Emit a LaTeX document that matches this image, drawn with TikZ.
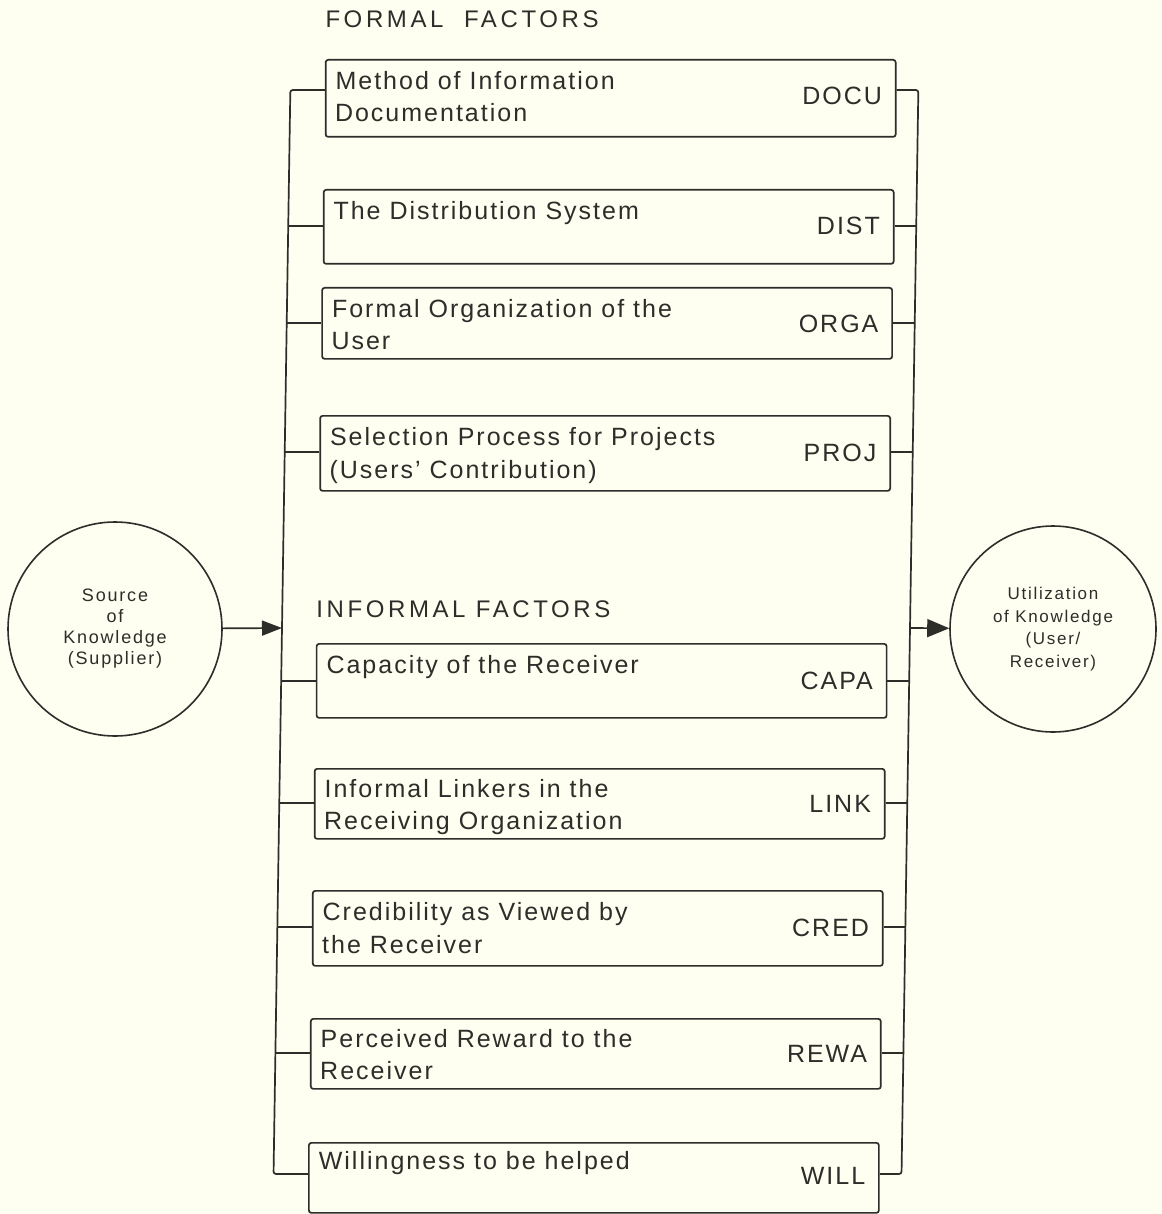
\documentclass[tikz,border=0pt]{standalone}
\usepackage{fontspec}
\newfontfamily\lsfont{Liberation Sans}[LetterSpace=8]
\newfontfamily\lsfonth{Liberation Sans}[LetterSpace=15]
\newfontfamily\lsfontc{Liberation Sans}[LetterSpace=10]
\usetikzlibrary{arrows.meta}
\definecolor{paper}{RGB}{254,254,241}
\definecolor{ink}{RGB}{45,45,42}
\tikzset{
  factorbox/.style={draw=ink, line width=1.7pt, rounded corners=2.5pt, minimum width=570pt,
    minimum height=#1, inner sep=0pt, anchor=north west},
  boxtext/.style={text=ink, inner sep=0pt, anchor=base west, font=\lsfont\fontsize{25}{30}\selectfont},
  codetext/.style={text=ink, inner sep=0pt, anchor=base east, font=\lsfont\fontsize{25}{30}\selectfont},
  headtext/.style={text=ink, inner sep=0pt, anchor=base west, font=\lsfonth\fontsize{24}{30}\selectfont},
  conn/.style={draw=ink, line width=1.7pt, rounded corners=2.5pt},
  endcircle/.style={circle, draw=ink, line width=1.6pt, inner sep=0pt, align=center, text=ink},
}
\begin{document}
\begin{tikzpicture}[x=1pt,y=-1pt]
\fill[paper] (0,0) rectangle (1161,1214);
\useasboundingbox (0,0) rectangle (1161,1214);

% end circles
\node[endcircle, minimum size=214pt, font=\lsfontc\fontsize{18}{21}\selectfont] (src) at (115,629)
  {Source\\of\\Knowledge\\(Supplier)};
\node[endcircle, minimum size=206pt, font=\lsfontc\fontsize{17}{22.5}\selectfont] (dst) at (1053,629)
  {Utilization\\of Knowledge\\(User/\\Receiver)};

\begin{scope}[shift={(9.73,0)}, xslant=0.0155]
% headers
\node[headtext] (hf) at (316,28) {FORMAL~~FACTORS};
\node[headtext] (hi) at (316,617) {INFORMAL FACTORS};

% boxes
\node[factorbox=77pt]  (b1) at (316,59)   {};
\node[factorbox=74pt]  (b2) at (316,189)  {};
\node[factorbox=71pt]  (b3) at (316,287)  {};
\node[factorbox=75pt]  (b4) at (316,415)  {};
\node[factorbox=74pt]  (b5) at (316,643)  {};
\node[factorbox=70pt]  (b6) at (316,768)  {};
\node[factorbox=75pt]  (b7) at (316,890)  {};
\node[factorbox=70pt]  (b8) at (316,1018) {};
\node[factorbox=70pt]  (b9) at (316,1142) {};

% box texts
\node[boxtext] (t1a) at (327,90)   {Method of Information};
\node[boxtext] (t1b) at (327,122)  {Documentation};
\node[boxtext] (t2a) at (327,220)  {The Distribution System};
\node[boxtext] (t3a) at (327,317)  {Formal Organization of the};
\node[boxtext] (t3b) at (327,349)  {User};
\node[boxtext] (t4a) at (327,445)  {Selection Process for Projects};
\node[boxtext] (t4b) at (327,478)  {(Users’ Contribution)};
\node[boxtext] (t5a) at (327,673)  {Capacity of the Receiver};
\node[boxtext] (t6a) at (327,797)  {Informal Linkers in the};
\node[boxtext] (t6b) at (327,829)  {Receiving Organization};
\node[boxtext] (t7a) at (327,920)  {Credibility as Viewed by};
\node[boxtext] (t7b) at (327,953)  {the Receiver};
\node[boxtext] (t8a) at (327,1047) {Perceived Reward to the};
\node[boxtext] (t8b) at (327,1079) {Receiver};
\node[boxtext] (t9a) at (327,1169) {Willingness to be helped};

% codes
\node[codetext] (c1) at (874,105)  {DOCU};
\node[codetext] (c2) at (874,235)  {DIST};
\node[codetext] (c3) at (874,332)  {ORGA};
\node[codetext] (c4) at (874,461)  {PROJ};
\node[codetext] (c5) at (874,689)  {CAPA};
\node[codetext] (c6) at (874,812)  {LINK};
\node[codetext] (c7) at (874,936)  {CRED};
\node[codetext] (c8) at (874,1062) {REWA};
\node[codetext] (c9) at (874,1184) {WILL};

% bus coordinates
\coordinate (L1) at (282,90);   \coordinate (R1) at (910,90);
\coordinate (L2) at (282,226);  \coordinate (R2) at (910,226);
\coordinate (L3) at (282,323);  \coordinate (R3) at (910,323);
\coordinate (L4) at (282,452);  \coordinate (R4) at (910,452);
\coordinate (L5) at (282,681);  \coordinate (R5) at (910,681);
\coordinate (L6) at (282,803);  \coordinate (R6) at (910,803);
\coordinate (L7) at (282,927);  \coordinate (R7) at (910,927);
\coordinate (L8) at (282,1053); \coordinate (R8) at (910,1053);
\coordinate (L9) at (282,1174); \coordinate (R9) at (910,1174);
\coordinate (Lm) at (282,628);  \coordinate (Rm) at (910,628);

% buses
\draw[conn] (b1.west |- L1) -- (L1) -- (L9) -- (b9.west |- L9);
\draw[conn] (b1.east |- R1) -- (R1) -- (R9) -- (b9.east |- R9);
\foreach \i in {2,...,8} {
  \draw[conn] (L\i) -- (b\i.west |- L\i);
  \draw[conn] (R\i) -- (b\i.east |- R\i);
}
\end{scope}

% arrows
\draw[conn, -{Triangle[length=20pt,width=15pt]}] (src) -- (Lm);
\draw[conn, -{Triangle[length=22pt,width=18pt]}] (Rm) -- (dst);
\end{tikzpicture}
\end{document}
